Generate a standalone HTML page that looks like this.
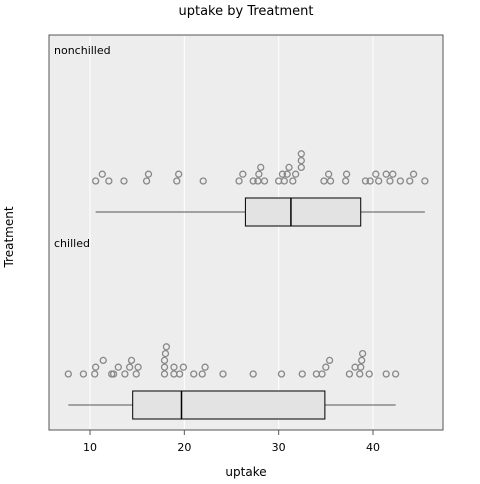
<!DOCTYPE html>
<html><head><meta charset="utf-8"><style>
body{margin:0;background:#fff;font-family:"DejaVu Sans","Liberation Sans",sans-serif;}
svg text{font-family:"DejaVu Sans","Liberation Sans",sans-serif;}
</style></head><body>
<svg id="c" width="480" height="480" xmlns="http://www.w3.org/2000/svg">
<text x="246" y="15" font-size="13" text-anchor="middle">uptake by Treatment</text>
<rect x="49" y="35" width="394" height="395" fill="#ededed" stroke="#555"/>
<g id="grid"></g>
<g id="marks"></g>
<text x="54" y="54" font-size="11">nonchilled</text>
<text x="54" y="247" font-size="11">chilled</text>
<g id="xaxis"></g>
<text x="246" y="476" font-size="12" text-anchor="middle">uptake</text>
<text x="13" y="237" font-size="12" text-anchor="middle" transform="rotate(-90 13 237)">Treatment</text>
</svg>
<script>
const groups = ["nonchilled","chilled"];
const nonchilled = [16.0,30.4,34.8,37.2,35.3,39.2,39.7,13.6,27.3,37.1,41.8,40.6,41.4,44.3,16.2,32.4,40.3,42.1,42.9,43.9,45.5,10.6,19.2,26.2,30.0,30.9,32.4,35.5,12.0,22.0,30.6,31.8,32.4,31.1,31.5,11.3,19.4,25.8,27.9,28.5,28.1,27.8];
const chilled = [14.2,24.1,30.3,34.6,32.5,35.4,38.7,9.3,27.3,35.0,38.8,38.6,37.5,42.4,15.1,21.0,38.1,34.0,38.9,39.6,41.4,10.5,14.9,18.1,18.9,19.5,22.2,21.9,7.7,11.4,12.3,13.0,12.5,13.7,14.4,10.6,18.0,17.9,17.9,17.9,18.9,19.9];
const xTicks = [10,20,30,40];
const NS="http://www.w3.org/2000/svg";
const X = v => 90 + (v-10)*9.433;
function mk(parent,tag,attrs){const e=document.createElementNS(NS,tag);for(const k in attrs)e.setAttribute(k,attrs[k]);document.getElementById(parent).appendChild(e);return e;}
xTicks.forEach(t=>{
  const g=mk('grid','line',{x1:X(t),x2:X(t),y1:36,y2:429,stroke:'#fff','stroke-width':1});
  
  
  const tk=mk('xaxis','line',{x1:X(t),x2:X(t),y1:430,y2:435,stroke:'#555'});
  
  
  const tl=mk('xaxis','text',{x:X(t),y:451,'font-size':11,'text-anchor':'middle'});
  tl.textContent=t;
  
  
});
function q(s,p){const h=(s.length-1)*p,l=Math.floor(h);return s[l]+(s[l+1]-s[l])*(h-l);}
function draw(data,base,boxTop){
  const s=[...data].sort((a,b)=>a-b);
  const q1=q(s,.25),med=q(s,.5),q3=q(s,.75),mn=s[0],mx=s[s.length-1];
  const mid=boxTop+14;
  let w=mk('marks','line',{x1:X(mn),x2:X(mx),y1:mid,y2:mid,stroke:'#555'});
  
  
  let b=mk('marks','rect',{x:X(q1),y:boxTop,width:X(q3)-X(q1),height:28,fill:'#e3e3e3',stroke:'#000'});
  
  
  let m=mk('marks','line',{x1:X(med),x2:X(med),y1:boxTop,y2:boxTop+28,stroke:'#000','stroke-width':1.5});
  
  
  const cnt={};
  s.forEach(v=>{
    const k=Math.round(v); cnt[k]=(cnt[k]||0);
    const lvl=cnt[k]++;
    const c=mk('marks','circle',{cx:X(v),cy:base-lvl*6.8,r:3,fill:'none',stroke:'#888','stroke-width':1.3});
    
    
  });
}
draw(nonchilled,181,198);
draw(chilled,374,391);
</script>
</body></html>
